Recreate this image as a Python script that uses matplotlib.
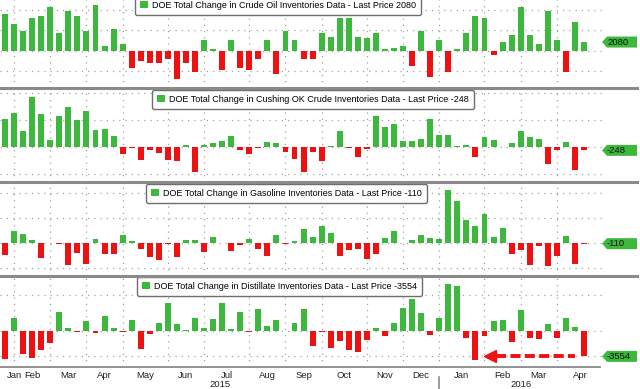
import numpy as np
import pandas as pd
import matplotlib
matplotlib.use("Agg")
import matplotlib.pyplot as plt
import matplotlib.dates as mdates
from matplotlib.patches import Patch, Polygon
from matplotlib.lines import Line2D
from matplotlib.transforms import blended_transform_factory, IdentityTransform

plt.rcParams['font.family'] = ['Liberation Sans', 'DejaVu Sans']

# weekly DOE data, thousand barrels
dates = pd.date_range("2015-01-30", periods=65, freq="7D")

crude = [9100, 6400, 4900, 7900, 8600, 10600, 4400, 9800, 8400, 4900, 11300, 1000, 5400, 1700,
         -4200, -2500, -3000, -3000, -2000, -7100, -3000, -5400,
         2500, 300, -4700, 2500, -4400, -4700, -2000, 2700, -5700, 4700, 2700, -2200, -2000,
         4200, 3200, 8100, 8100, 3400, 3000, 4200, 300, 700, 1200,
         -3900, 4900, -6400, 2700, -5400, 300, 4200, 8600, 8100, -1000,
         2200, 3700, 10600, 3900, 1500, 9600, 2500, -5400, 6900, 2080]
cushing = [2070, 2520, 1180, 3700, 2440, 520, 2290, 2960, 2000, 2660, 1260, 1330, 810,
           -520, -70, -960, -220, -440, -960, -1040,
           150, -1850, 130, 300, 440, 810, -220, -520, -70, 370, 300,
           -370, -890, -1850, -370,
           -1040, 70, 1180, -40, -740, -150, 2290, 1480, 1700, 440,
           440, 590, 2070, 890, 890, 70, 150, -740, 740, 520,
           20, 300, 1180, 740, 590, -1260, -220, 370, -1700, -248]
gasoline = [-1920, 1920, 1440, 480, -2400, 80, -100, -3520, -1600, -3360,
            640, -1760, -1760, 1280, 320, -960, -2240, -2720, -160, -2240,
            480, 480, -1440, 960, 40, -1280, -320, 640, -960, -2080,
            1280, -160, 320, 2240, 960,
            2720, 1600, -2080, -1120, -960, -2560, -1760, 800, 1920, 60,
            480, 1280, 800, 640, 8480, 6720, 3680, 2720, 4640, 960,
            2400, -1760, -1120, -3520, -480, -3680, -2080, 1120, -3360, -110]
distillate = [-3920, 1820, -3220, -3780, -2660, -1680, 2660, 420, -140, 1400,
              -280, 2100, 420, -70, 1540, -2520, -420, 1120, 3920, 980,
              140, 1820, 420, 1680, 3920, 280, 2660, -70, 3080, 700,
              1540, 30, 1120, 3080, -2100,
              -140, -2380, -1400, -2660, -2940, -1260, 420, -700, 1120, 3220,
              4480, 2520, -560, 1820, 6580, 6300, -980, -4060, -700, 1400,
              1540, -1540, 2940, -980, -1120, 980, -980, 1820, 560, -3554]

series = [crude, cushing, gasoline, distillate]
titles = ["DOE Total Change in Crude Oil Inventories Data - Last Price 2080",
          "DOE Total Change in Cushing OK Crude Inventories Data - Last Price -248",
          "DOE Total Change in Gasoline Inventories Data - Last Price -110",
          "DOE Total Change in Distillate Inventories Data - Last Price -3554"]
last_labels = ["2080", "-248", "-110", "-3554"]
ylims = [(-9220, 12420), (-2590, 4370), (-5280, 9760), (-5040, 7700)]
hgrid = [[-5000, 0, 5000, 10000], [-2000, 0, 2000, 4000], [-4000, 0, 4000, 8000], [-3500, 0, 5000]]

GREEN = '#3cb83c'
RED = '#ee1111'
GRID = '#a0a0a0'
SEP = '#8a8a8a'
FS = 6.5

W, H = 640, 389
tops = [0, 88, 182, 276]
bots = [88, 182, 276, 367]
leg_pos = [(135, -4), (152, 90), (146, 184), (137, 277)]
plot_right = 603

x = mdates.date2num(dates)
xlim = (x[0] - 3.9, x[-1] + 14.7)

# first data point of each month -> grid lines
s = pd.Series(x, index=dates)
firsts = s.groupby([dates.year, dates.month]).first()
month_x = list(firsts.values)
month_names = [pd.Timestamp(year=y, month=m, day=1).strftime('%b') for y, m in firsts.index]

fig = plt.figure(figsize=(W / 100, H / 100), dpi=100)
axes = []
for i, vals in enumerate(series):
    ax = fig.add_axes([0, 1 - bots[i] / H, plot_right / W, (bots[i] - tops[i]) / H])
    axes.append(ax)
    colors = [GREEN if v >= 0 else RED for v in vals]
    ax.bar(x, vals, width=4.6, color=colors, zorder=3)
    ax.set_xlim(*xlim)
    ax.set_ylim(*ylims[i])
    for yv in hgrid[i]:
        ax.axhline(yv, color=GRID, lw=0.9, dashes=(1, 4), zorder=1)
    for mx in month_x[1:]:
        ax.axvline(mx, color=GRID, lw=0.9, dashes=(1, 4), zorder=1)
    for sp in ax.spines.values():
        sp.set_visible(False)
    ax.set_xticks([])
    ax.set_yticks([])
    ax.patch.set_alpha(0)

    leg = ax.legend(handles=[Patch(facecolor=GREEN, edgecolor='none')], labels=[titles[i]],
                    loc='upper left', bbox_to_anchor=(leg_pos[i][0] / W, 1 - leg_pos[i][1] / H),
                    bbox_transform=fig.transFigure, fontsize=FS, frameon=True, fancybox=True,
                    framealpha=1, edgecolor='#6e6e6e', borderpad=0.55, handlelength=0.85,
                    handleheight=0.85, handletextpad=0.5, borderaxespad=0)
    leg.get_frame().set_linewidth(1.0)
    leg.set_zorder(5)

    # last price tag on the right
    yp = ax.transData.transform((x[-1], vals[-1]))[1]
    tag = Polygon([(602, yp), (607, yp + 5.5), (637, yp + 5.5), (637, yp - 5.5), (607, yp - 5.5)],
                  closed=True, facecolor=GREEN, edgecolor='none', transform=IdentityTransform())
    fig.add_artist(tag)
    fig.text(607, yp, last_labels[i], transform=IdentityTransform(), fontsize=FS + 0.3,
             color='#111111', va='center', ha='left')

# panel separators
for yp in bots[:3]:
    fig.add_artist(Line2D([0, 637 / W], [1 - yp / H] * 2, transform=fig.transFigure,
                          color=SEP, lw=2.2))
fig.add_artist(Line2D([0, 600 / W], [1 - 367 / H] * 2, transform=fig.transFigure,
                      color=SEP, lw=1.3))

# bottom axis labels
ax = axes[-1]
bt = blended_transform_factory(ax.transData, ax.transAxes)
ends = month_x[1:] + [xlim[1]]
for j, name in enumerate(month_names):
    if j == 0:
        ax.annotate(name, xy=(x[0], 0), xycoords=bt, xytext=(2, -8), textcoords='offset pixels',
                    ha='left', va='center', fontsize=FS + 0.3, color='#222222')
    else:
        xc = (month_x[j] + ends[j]) / 2
        ax.annotate(name, xy=(xc, 0), xycoords=bt, xytext=(0, -8), textcoords='offset pixels',
                    ha='center', va='center', fontsize=FS + 0.3, color='#222222')

jan16 = firsts.loc[(2016, 1)]
for label, x0, x1 in [("2015", xlim[0], jan16), ("2016", jan16, xlim[1])]:
    ax.annotate(label, xy=((x0 + x1) / 2, 0), xycoords=bt, xytext=(0, -20),
                textcoords='offset pixels', ha='center', va='baseline', fontsize=FS + 0.3,
                color='#222222')
ax.plot([jan16, jan16], [-10 / 91, -24 / 91], transform=bt, clip_on=False, color=SEP, lw=1.2)

# red dashed arrow at the last distillate level
feb16 = firsts.loc[(2016, 2)]
ax.plot([feb16 + 9, x[-2]], [distillate[-1]] * 2, color=RED, lw=2.8, dashes=(2.6, 1.1),
        zorder=4, solid_capstyle='butt')
ax.plot([feb16 + 4.5], [distillate[-1]], marker='<', ms=8.5, color=RED, mec=RED, zorder=4)

fig.savefig("out.png", dpi=100)
